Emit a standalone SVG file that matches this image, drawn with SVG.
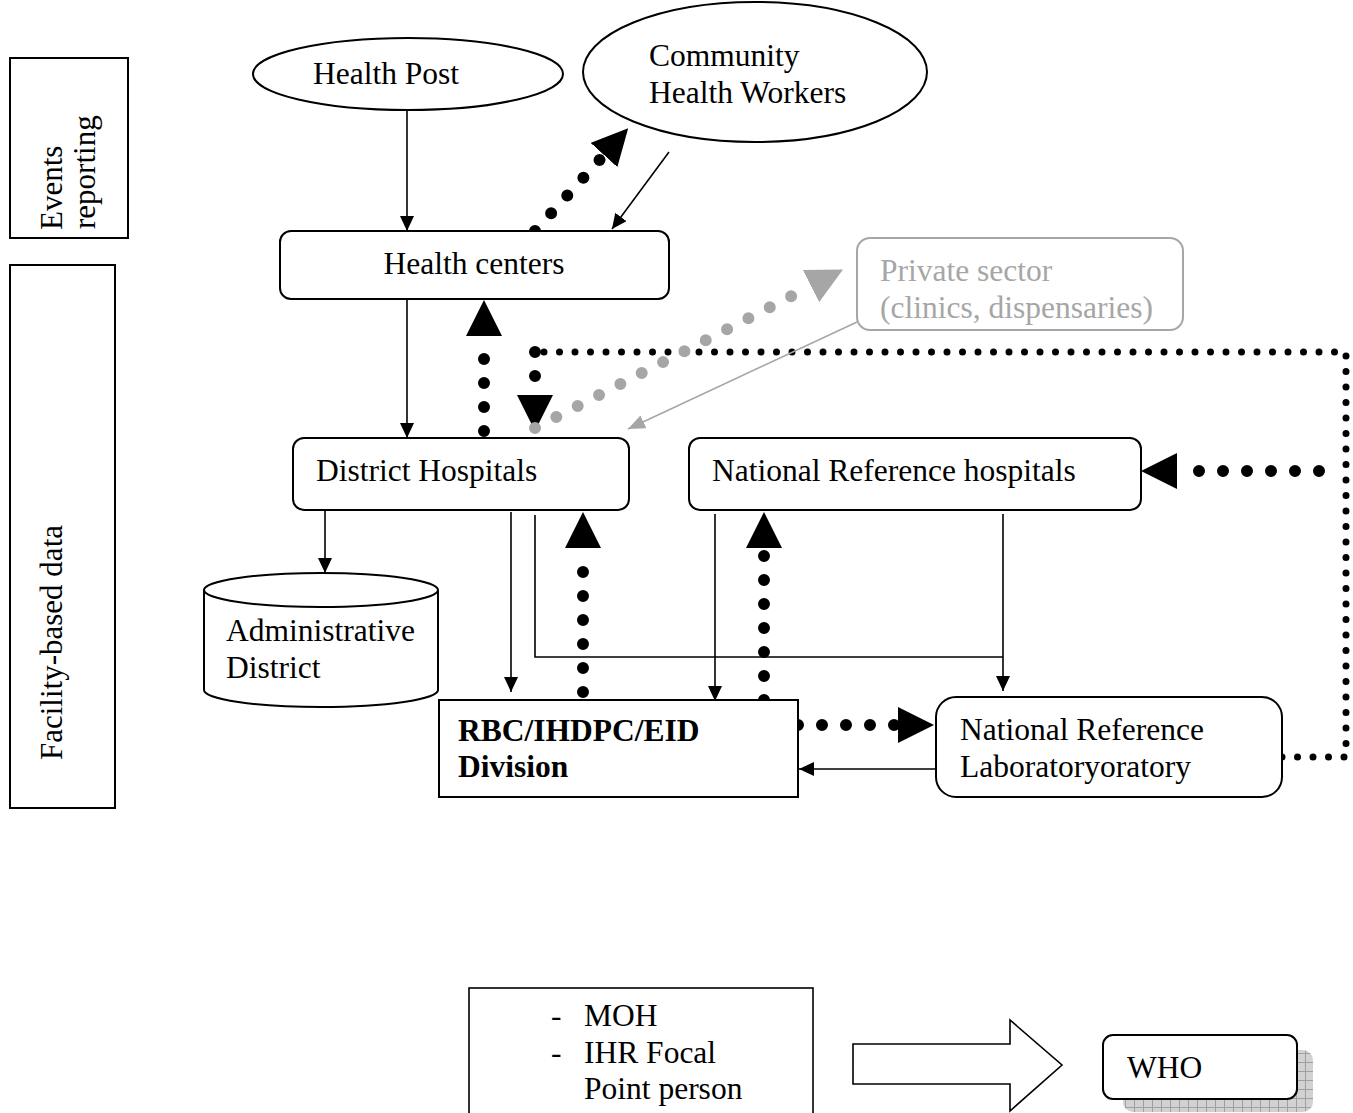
<svg xmlns="http://www.w3.org/2000/svg" width="1353" height="1113" viewBox="0 0 1353 1113">
<style>
.box{fill:#fff;stroke:#000;stroke-width:2}
.gbox{fill:#fff;stroke:#a6a6a6;stroke-width:2}
.t{font-family:"Liberation Serif","Times New Roman",serif;font-size:31.5px;fill:#000}
.side{font-family:"Liberation Serif","Times New Roman",serif;font-size:31px;fill:#000}
.gt{fill:#a6a6a6}
.b{font-weight:bold}
.thin{stroke:#000;stroke-width:1.6;fill:none;marker-end:url(#ah)}
.gthin{stroke:#a6a6a6;stroke-width:1.6;fill:none;marker-end:url(#gah)}
.bigdot{stroke:#000;stroke-width:12;stroke-linecap:round;stroke-dasharray:0 24;fill:none}
.smalldot{stroke:#000;stroke-width:7;stroke-linecap:round;stroke-dasharray:0 15.5;fill:none}
.gdot{stroke:#a6a6a6;stroke-width:12;stroke-linecap:round;stroke-dasharray:0 24;fill:none}
.bigarrow{marker-end:url(#big)}
.gbigarrow{marker-end:url(#gbig)}
</style>
<defs>
<marker id="ah" markerUnits="userSpaceOnUse" markerWidth="15" markerHeight="14" viewBox="0 0 15 14" refX="15" refY="7" orient="auto"><path d="M0,0 L15,7 L0,14 z" fill="#000"/></marker>
<marker id="gah" markerUnits="userSpaceOnUse" markerWidth="17" markerHeight="14" viewBox="0 0 17 14" refX="17" refY="7" orient="auto"><path d="M0,0 L17,7 L0,14 z" fill="#a6a6a6"/></marker>
<marker id="big" markerUnits="userSpaceOnUse" markerWidth="36" markerHeight="36" viewBox="0 0 36 36" refX="0" refY="18" orient="auto"><path d="M0,0 L36,18 L0,36 z" fill="#000"/></marker>
<marker id="gbig" markerUnits="userSpaceOnUse" markerWidth="36" markerHeight="36" viewBox="0 0 36 36" refX="0" refY="18" orient="auto"><path d="M0,0 L36,18 L0,36 z" fill="#a6a6a6"/></marker>
<pattern id="grid" width="9" height="9" patternUnits="userSpaceOnUse"><rect width="9" height="9" fill="#d2d2d2"/><path d="M0,0.5 H9 M0.5,0 V9" stroke="#a0a0a0" stroke-width="1"/></pattern>
</defs>

<g id="label-events">
<rect x="10" y="58" width="118" height="180" fill="#fff" stroke="#000" stroke-width="2"/>
<text class="side" transform="translate(62,230) rotate(-90)">Events</text>
<text class="side" transform="translate(95,229) rotate(-90)">reporting</text>
</g>
<g id="label-facility">
<rect x="10" y="265" width="105" height="543" fill="#fff" stroke="#000" stroke-width="2"/>
<text class="side" transform="translate(62,760) rotate(-90)">Facility-based data</text>
</g>

<g id="connectors">
<line class="thin" x1="407" y1="110" x2="407" y2="231"/>
<line class="thin" x1="669" y1="152" x2="612" y2="229"/>
<line class="bigdot bigarrow" x1="535" y1="231" x2="604" y2="155"/>
<line class="thin" x1="407" y1="299" x2="407" y2="438"/>
<line class="bigdot bigarrow" x1="484" y1="431" x2="484" y2="336"/>
<path class="smalldot" d="M1282,757 H1346 V352 H535"/>
<path class="bigdot bigarrow" d="M535,352 V395"/>
<line class="gdot gbigarrow" x1="535" y1="428" x2="811" y2="286"/>
<line class="gthin" x1="857" y1="322" x2="628" y2="429"/>
<line class="bigdot bigarrow" x1="1319" y1="471" x2="1177" y2="471"/>
<line class="thin" x1="325" y1="510" x2="325" y2="573"/>
<line class="thin" x1="511" y1="512" x2="511" y2="692"/>
<polyline class="thin" style="marker-end:none" points="535,515 535,657 1003,657"/>
<line class="thin" x1="1003" y1="514" x2="1003" y2="691"/>
<line class="thin" x1="715" y1="514" x2="715" y2="701"/>
<line class="bigdot bigarrow" x1="583" y1="692" x2="583" y2="548"/>
<line class="bigdot bigarrow" x1="764" y1="700" x2="764" y2="548"/>
<line class="bigdot bigarrow" x1="798" y1="725" x2="898" y2="725"/>
<line class="thin" x1="936" y1="769" x2="799" y2="769"/>
<polygon points="853,1044 1010,1044 1010,1020 1062,1065 1010,1111 1010,1084 853,1084" fill="#fff" stroke="#000" stroke-width="1.6"/>
</g>

<g id="health-post">
<ellipse cx="408" cy="74" rx="155" ry="36" class="box"/>
<text class="t" x="313" y="84">Health Post</text>
</g>
<g id="chw">
<ellipse cx="755" cy="72" rx="172" ry="70" class="box"/>
<text class="t" x="649" y="66">Community</text>
<text class="t" x="649" y="103">Health Workers</text>
</g>
<g id="health-centers">
<rect x="280" y="231" width="389" height="68" rx="11" class="box"/>
<text class="t" x="474" y="274" text-anchor="middle">Health centers</text>
</g>
<g id="private-sector">
<rect x="857" y="238" width="326" height="92" rx="13" class="gbox"/>
<text class="t gt" x="880" y="281">Private sector</text>
<text class="t gt" x="880" y="318">(clinics, dispensaries)</text>
</g>
<g id="district-hospitals">
<rect x="293" y="438" width="336" height="72" rx="11" class="box"/>
<text class="t" x="316" y="481">District Hospitals</text>
</g>
<g id="national-reference-hospitals">
<rect x="689" y="438" width="452" height="72" rx="11" class="box"/>
<text class="t" x="712" y="481">National Reference hospitals</text>
</g>
<g id="administrative-district">
<path d="M204,590 V690 A117,17 0 0 0 438,690 V590" class="box"/>
<ellipse cx="321" cy="590" rx="117" ry="17" class="box"/>
<text class="t" x="226" y="641">Administrative</text>
<text class="t" x="226" y="678">District</text>
</g>
<g id="rbc">
<rect x="439" y="700" width="359" height="97" class="box"/>
<text class="t b" x="458" y="741">RBC/IHDPC/EID</text>
<text class="t b" x="458" y="777">Division</text>
</g>
<g id="national-reference-laboratory">
<rect x="936" y="697" width="346" height="100" rx="20" class="box"/>
<text class="t" x="960" y="740">National Reference</text>
<text class="t" x="960" y="777">Laboratoryoratory</text>
</g>
<g id="moh">
<rect x="469" y="988" width="344" height="140" fill="#fff" stroke="#000" stroke-width="1.6"/>
<text class="t" x="551" y="1026">-</text>
<text class="t" x="584" y="1026">MOH</text>
<text class="t" x="551" y="1063">-</text>
<text class="t" x="584" y="1063">IHR Focal</text>
<text class="t" x="584" y="1099">Point person</text>
</g>
<g id="who">
<rect x="1123" y="1050" width="190" height="62" rx="10" fill="url(#grid)"/>
<rect x="1103" y="1035" width="194" height="64" rx="10" class="box"/>
<text class="t" x="1127" y="1078">WHO</text>
</g>
</svg>
